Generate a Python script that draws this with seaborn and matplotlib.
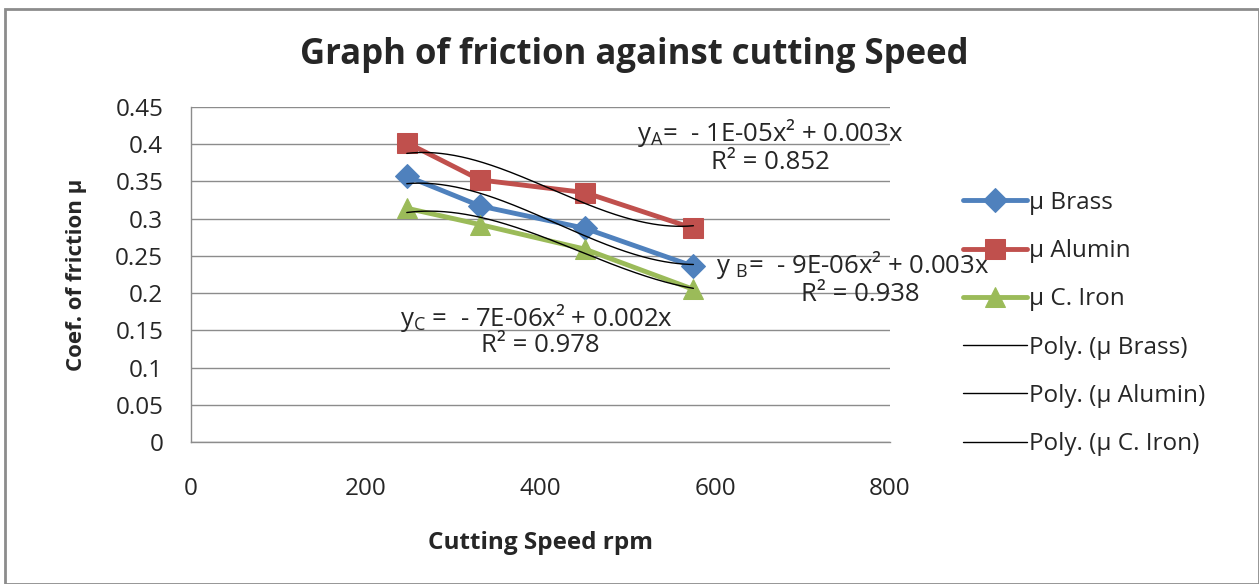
import numpy as np
import pandas as pd
import matplotlib
matplotlib.use("Agg")
import matplotlib.pyplot as plt
import seaborn as sns
from matplotlib.patches import Rectangle

speed = [247, 331, 451, 575]
mu_brass = [0.357, 0.317, 0.287, 0.236]
mu_alumin = [0.402, 0.352, 0.335, 0.287]
mu_iron = [0.314, 0.292, 0.259, 0.205]
series_names = ["μ Brass", "μ Alumin", "μ C. Iron"]
x_ticks = [0, 200, 400, 600, 800]
y_ticks = [0, 0.05, 0.1, 0.15, 0.2, 0.25, 0.3, 0.35, 0.4, 0.45]
y_tick_labels = ["0", "0.05", "0.1", "0.15", "0.2", "0.25", "0.3", "0.35", "0.4", "0.45"]

sns.set_theme(style="white")
plt.rcParams['font.family'] = ['Open Sans', 'DejaVu Sans']
plt.rcParams['mathtext.fontset'] = 'custom'
plt.rcParams['mathtext.rm'] = 'Open Sans'

fig = plt.figure(figsize=(12.59, 5.84), dpi=100)
ax = fig.add_axes([0.1517, 0.2432, 0.5552, 0.5736])

colors = ["#4F81BD", "#C0504D", "#9BBB59"]
markers = ["D", "s", "^"]
msizes = [12, 15, 15]
data = [mu_brass, mu_alumin, mu_iron]

df = pd.DataFrame({"speed": speed * 3,
                   "mu": mu_brass + mu_alumin + mu_iron,
                   "series": sum([[n] * 4 for n in series_names], [])})

for name, c, m, ms in zip(series_names, colors, markers, msizes):
    sub = df[df.series == name]
    sns.lineplot(data=sub, x="speed", y="mu", ax=ax, color=c, marker=m,
                 markersize=ms, linewidth=3.5, markeredgecolor=c, label=name,
                 zorder=3)

# polynomial trendlines (order 3, zero intercept)
xs = np.array(speed, dtype=float)
xx = np.linspace(xs.min(), xs.max(), 200)
for name, ys in zip(series_names, data):
    A = np.vstack([xs**3, xs**2, xs]).T
    coef, *_ = np.linalg.lstsq(A, np.array(ys), rcond=None)
    yy = coef[0] * xx**3 + coef[1] * xx**2 + coef[2] * xx
    ax.plot(xx, yy, color="black", linewidth=1.0, zorder=4,
            label=f"Poly. ({name})")

ax.set_xlim(0, 800)
ax.set_ylim(0, 0.45)
ax.set_xticks(x_ticks)
ax.set_yticks(y_ticks)
ax.set_yticklabels(y_tick_labels)
ax.tick_params(axis="both", labelsize=17.5, length=0)
ax.tick_params(axis="y", pad=20)
ax.tick_params(axis="x", pad=25)
ax.yaxis.grid(True, color="#8c8c8c", linewidth=1)
ax.xaxis.grid(False)
for s in ["top", "right"]:
    ax.spines[s].set_visible(False)
for s in ["left", "bottom"]:
    ax.spines[s].set_color("#8c8c8c")
    ax.spines[s].set_linewidth(1)

ax.set_xlabel("Cutting Speed rpm", fontsize=17.5, fontweight="bold", labelpad=22)
ax.set_ylabel("Coef. of friction μ", fontsize=16, fontweight="bold", labelpad=20)
fig.text(0.504, 0.906, "Graph of friction against cutting Speed", ha="center",
         va="center", fontsize=25, fontweight="bold")

# equations
fs = 18.5
ax.text(663, 0.415, r"y$_\mathrm{A}$=  - 1E-05x² + 0.003x", fontsize=fs, ha="center", va="center", zorder=5)
ax.text(663, 0.375, "R² = 0.852", fontsize=fs, ha="center", va="center", zorder=5)
ax.text(601, 0.238, r"y $_\mathrm{B}$=  - 9E-06x² + 0.003x", fontsize=fs, ha="left", va="center", zorder=5)
ax.text(766, 0.1975, "R² = 0.938", fontsize=fs, ha="center", va="center", zorder=5)
ax.text(239, 0.1666, r"y$_\mathrm{C}$ =  - 7E-06x² + 0.002x", fontsize=fs, ha="left", va="center", zorder=5)
ax.text(400, 0.130, "R² = 0.978", fontsize=fs, ha="center", va="center", zorder=5)

leg = ax.legend(loc="upper left", bbox_to_anchor=(1.091, 0.779), frameon=False,
                fontsize=17.5, handlelength=2.6, handletextpad=0.1,
                labelspacing=1.0, borderaxespad=0)

fig.patches.append(Rectangle((0.004, 0.0), 0.996, 0.985, transform=fig.transFigure,
                             fill=False, edgecolor="#8c8c8c", linewidth=2))

fig.savefig("out.png", dpi=100)
